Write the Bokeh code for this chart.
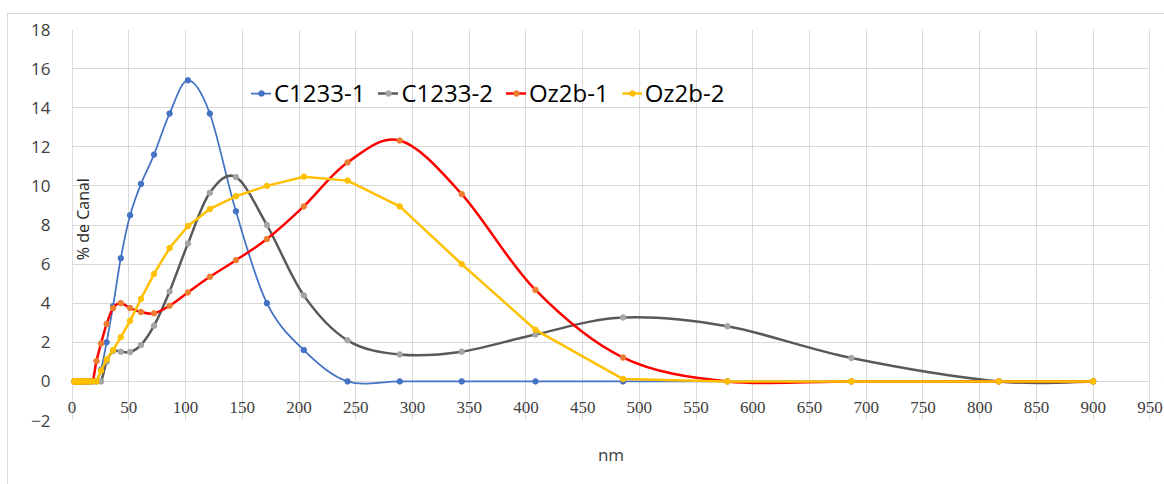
import math
import numpy as np
from bokeh.plotting import figure
from bokeh.models import (FixedTicker, Legend, LegendItem, Label, LabelSet,
                          ColumnDataSource, BoxAnnotation)
from bokeh.embed import file_html
from bokeh.resources import INLINE

# ---- data ----
nm = [1.9, 2.3, 2.7, 3.2, 3.8, 4.5, 5.4, 6.4, 7.6, 9.0, 10.7, 12.8, 15.2, 18.1,
      21.5, 25.5, 30.4, 36.1, 42.9, 51.1, 60.7, 72.2, 85.9, 102.1, 121.4, 144.4,
      171.7, 204.2, 242.8, 288.8, 343.4, 408.4, 485.7, 577.6, 686.9, 816.9, 900]

c1233_1 = [0, 0, 0, 0, 0, 0, 0, 0, 0, 0, 0, 0, 0, 0,
           0, 0.6, 2.0, 3.85, 6.3, 8.5, 10.1, 11.6, 13.7, 15.4, 13.7, 8.7,
           4.0, 1.6, 0, 0, 0, 0, 0, 0, 0, 0, 0]
c1233_2 = [0, 0, 0, 0, 0, 0, 0, 0, 0, 0, 0, 0, 0, 0,
           0, 0, 1.0, 1.55, 1.52, 1.5, 1.86, 2.85, 4.6, 7.05, 9.65, 10.45,
           8.0, 4.4, 2.1, 1.38, 1.52, 2.4, 3.27, 2.82, 1.2, 0, 0]
oz2b_1 = [0, 0, 0, 0, 0, 0, 0, 0, 0, 0, 0, 0, 0, 0,
          1.04, 1.94, 2.93, 3.75, 4.0, 3.75, 3.55, 3.48, 3.87, 4.55, 5.35, 6.2,
          7.28, 8.95, 11.2, 12.32, 9.58, 4.68, 1.22, 0, 0, 0, 0]
oz2b_2 = [0, 0, 0, 0, 0, 0, 0, 0, 0, 0, 0, 0, 0, 0,
          0, 0.55, 1.12, 1.6, 2.26, 3.1, 4.22, 5.5, 6.82, 7.95, 8.82, 9.47,
          10.0, 10.47, 10.27, 8.95, 6.0, 2.64, 0.12, 0, 0, 0, 0]

series_names = ["C1233-1", "C1233-2", "Oz2b-1", "Oz2b-2"]
x_ticks = [0, 50, 100, 150, 200, 250, 300, 350, 400, 450, 500, 550, 600, 650,
           700, 750, 800, 850, 900, 950]
x_tick_labels = ["0", "50", "100", "150", "200", "250", "300", "350", "400",
                 "450", "500", "550", "600", "650", "700", "750", "800", "850",
                 "900", "950"]
y_ticks = [-2, 0, 2, 4, 6, 8, 10, 12, 14, 16, 18]
x_title = "nm"
y_title = "% de Canal"

FONT = "Open Sans"
GRID = "#D9D9D9"
TICK_COLOR = "#404040"
PAD = 12  # extra room (data units) so the end tick labels are not clipped


def smooth_segments(xs, ys):
    """Bezier control points for a Catmull-Rom style smoothed line (Excel-like)."""
    x = np.asarray(xs, float)
    y = np.asarray(ys, float)
    xp = np.concatenate([[x[0]], x, [x[-1]]])
    yp = np.concatenate([[y[0]], y, [y[-1]]])
    i = np.arange(len(x) - 1)
    return dict(
        x0=x[:-1], y0=y[:-1], x1=x[1:], y1=y[1:],
        cx0=xp[i + 1] + (xp[i + 2] - xp[i]) / 6.0,
        cy0=yp[i + 1] + (yp[i + 2] - yp[i]) / 6.0,
        cx1=xp[i + 2] - (xp[i + 3] - xp[i + 1]) / 6.0,
        cy1=yp[i + 2] - (yp[i + 3] - yp[i + 1]) / 6.0,
    )


p = figure(width=1157, height=471,
           x_range=(x_ticks[0] - PAD, x_ticks[-1] + PAD),
           y_range=(y_ticks[0], y_ticks[-1]),
           output_backend="svg", toolbar_location=None,
           min_border_left=50, min_border_right=2, min_border_top=15,
           min_border_bottom=65)
p.margin = (13, 0, 0, 7)
p.styles = {"border-left": "1px solid #D9D9D9", "border-top": "1px solid #D9D9D9"}
p.background_fill_color = "white"
p.border_fill_color = "white"
p.outline_line_color = None

# grid
p.xgrid.ticker = FixedTicker(ticks=x_ticks)
p.ygrid.ticker = FixedTicker(ticks=y_ticks)
p.xgrid.grid_line_color = GRID
p.ygrid.grid_line_color = GRID
# mask grid outside the plotted x span (the padding only serves the labels)
p.add_layout(BoxAnnotation(right=x_ticks[0], fill_color="white", fill_alpha=1,
                           line_color=None, level="underlay"))
p.add_layout(BoxAnnotation(left=x_ticks[-1], fill_color="white", fill_alpha=1,
                           line_color=None, level="underlay"))

# y axis
p.yaxis.ticker = FixedTicker(ticks=y_ticks)
p.yaxis.axis_line_color = None
p.yaxis.major_tick_line_color = None
p.yaxis.minor_tick_line_color = None
p.yaxis.major_label_text_font = FONT
p.yaxis.major_label_text_font_size = "17px"
p.yaxis.major_label_text_color = TICK_COLOR
p.yaxis.major_label_standoff = 2

# x axis: only its title below; its tick labels sit at y = 0 (Excel style)
p.xaxis.ticker = FixedTicker(ticks=[])
p.xaxis.axis_line_color = None
p.xaxis.major_tick_line_color = None
p.xaxis.minor_tick_line_color = None
p.xaxis.axis_label = x_title
p.xaxis.axis_label_text_font = FONT
p.xaxis.axis_label_text_font_size = "17px"
p.xaxis.axis_label_text_font_style = "normal"
p.xaxis.axis_label_text_color = TICK_COLOR
p.xaxis.axis_label_standoff = 22

tick_src = ColumnDataSource(dict(x=x_ticks, y=[0] * len(x_ticks), text=x_tick_labels))
p.add_layout(LabelSet(x="x", y="y", text="text", source=tick_src,
                      y_offset=-26, text_align="center", text_baseline="middle",
                      text_font=FONT, text_font_size="17px", text_color=TICK_COLOR))

p.add_layout(Label(x=10, y=8.3, text=y_title, angle=math.pi / 2,
                   text_align="center", text_baseline="middle",
                   text_font=FONT, text_font_size="16px", text_color="#262626"))

# series
items = []
styles = [
    (c1233_1, "#4472C4", "#4472C4", 1.75, True),
    (c1233_2, "#595959", "#A5A5A5", 2.5, True),
    (oz2b_1, "#FF0000", "#ED7D31", 2.5, True),
    (oz2b_2, "#FFC000", "#FFC000", 2.5, False),
]
for name, (ys, lc, mc, lw, smooth) in zip(series_names, styles):
    if smooth:
        r_line = p.bezier(line_color=lc, line_width=lw, line_cap="round",
                          **smooth_segments(nm, ys))
    else:
        r_line = p.line(nm, ys, line_color=lc, line_width=lw, line_join="round")
    r_pts = p.scatter(nm, ys, size=5.5, fill_color=mc, line_color=mc)
    items.append(LegendItem(label=name, renderers=[r_line, r_pts]))

legend = Legend(items=items, orientation="horizontal", location=(193, 311),
                border_line_color=None, background_fill_alpha=0,
                padding=0, margin=0, spacing=13, glyph_width=20, glyph_height=14,
                label_standoff=3, label_text_font=FONT, label_text_font_size="24px",
                label_text_color="#000000")
p.add_layout(legend)

open("out.html", "w").write(file_html(p, INLINE))
